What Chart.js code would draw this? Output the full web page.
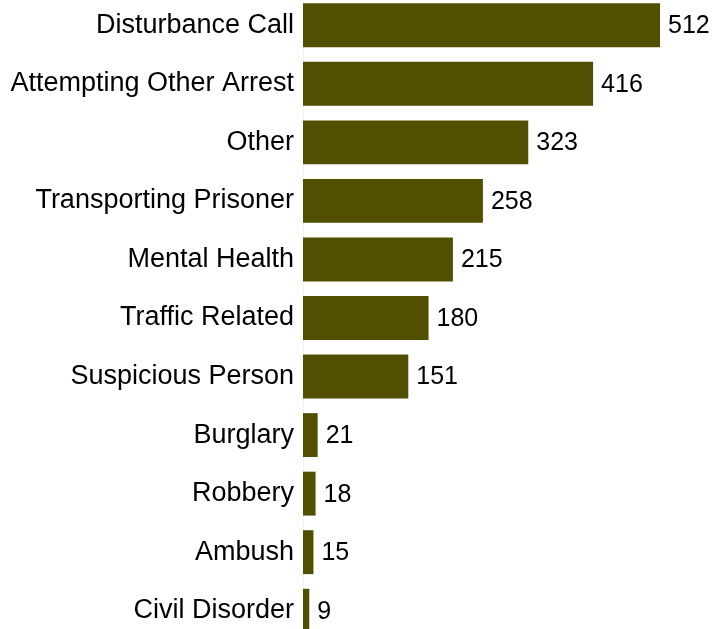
<!DOCTYPE html>
<html>
<head>
<meta charset="utf-8">
<script src="https://cdn.jsdelivr.net/npm/chart.js@4/dist/chart.umd.min.js"></script>
<style>
html,body{margin:0;padding:0;background:#fff;overflow:hidden;width:712px;height:629px;}
#wrap{position:absolute;left:0;top:-4px;width:712px;height:644px;}
</style>
</head>
<body>
<div id="wrap"><canvas id="c"></canvas></div>
<script>
const categories = ["Disturbance Call","Attempting Other Arrest","Other","Transporting Prisoner","Mental Health","Traffic Related","Suspicious Person","Burglary","Robbery","Ambush","Civil Disorder"];
const counts = [512,416,323,258,215,180,151,21,18,15,9];

const valueLabels = {
  id: 'valueLabels',
  afterDatasetsDraw(chart) {
    const ctx = chart.ctx;
    const meta = chart.getDatasetMeta(0);
    ctx.save();
    ctx.font = '25px "Liberation Sans", Arial, sans-serif';
    ctx.fillStyle = '#000';
    ctx.textAlign = 'left';
    ctx.textBaseline = 'middle';
    meta.data.forEach((bar, i) => {
      ctx.fillText(String(counts[i]), bar.x + 8, bar.y + 1);
    });
    ctx.restore();
  }
};

new Chart(document.getElementById('c'), {
  type: 'bar',
  data: {
    labels: categories,
    datasets: [{
      data: counts,
      backgroundColor: '#524f00',
      borderWidth: 0,
      categoryPercentage: 0.75,
      barPercentage: 1.0
    }]
  },
  options: {
    indexAxis: 'y',
    responsive: true,
    maintainAspectRatio: false,
    animation: false,
    layout: { padding: 0 },
    plugins: { legend: { display: false }, tooltip: { enabled: false } },
    scales: {
      x: { display: false, min: 0, max: 586.5 },
      y: {
        afterFit(scale) { scale.width = 303; scale.paddingTop = 0; scale.paddingBottom = 0; },
        grid: { display: false, drawTicks: false },
        border: { display: true, color: '#f2f2f2', width: 1 },
        ticks: {
          color: '#000',
          padding: 9,
          font: { family: '"Liberation Sans", Arial, sans-serif', size: 27 }
        }
      }
    }
  },
  plugins: [valueLabels]
});
</script>
</body>
</html>
